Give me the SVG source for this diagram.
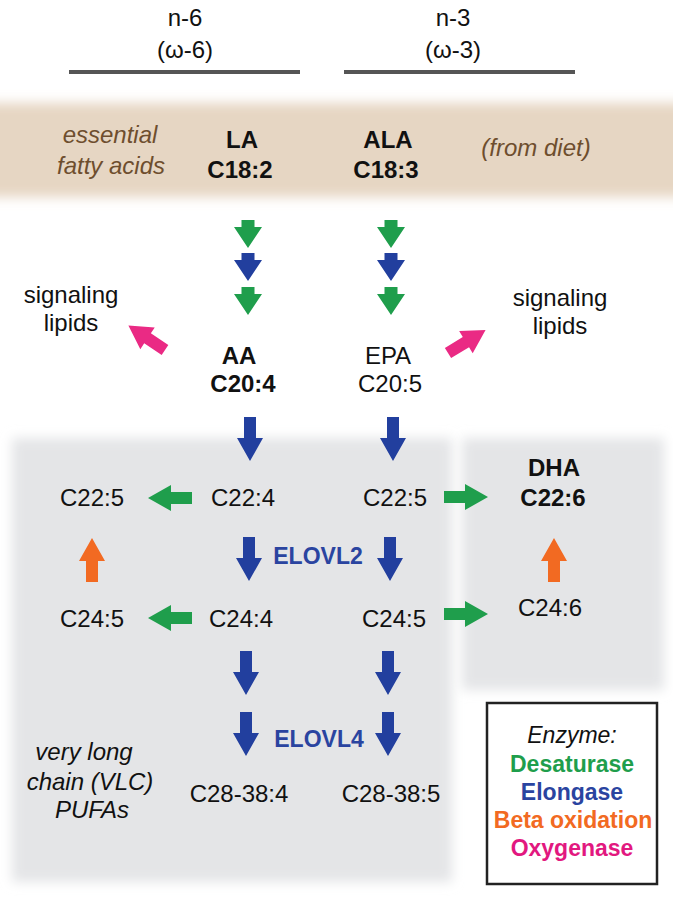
<svg xmlns="http://www.w3.org/2000/svg" xmlns:xlink="http://www.w3.org/1999/xlink" width="673" height="900" viewBox="0 0 673 900">
<defs>
<style>
text{font-family:"Liberation Sans",Arial,sans-serif;font-size:24px;text-anchor:middle;fill:#111}
.b{font-weight:bold}
.i{font-style:italic}
.br{fill:#6e4e2e;font-style:italic}
.el{fill:#2a44a0;font-weight:bold;font-size:23px}
.lg{font-size:23px;font-weight:bold}
.g{fill:#1f9e4c}.bl{fill:#223f9e}.o{fill:#f26a22}.p{fill:#ea2a84}
text.tg{fill:#1f9e4c}.tb{fill:#2a44a0}text.to{fill:#f26a22}text.tp{fill:#e2187f}
</style>
<filter id="blur" x="-10%" y="-20%" width="120%" height="140%"><feGaussianBlur stdDeviation="6"/></filter>
<path id="sa" d="M-6.5,0 H6.5 V7 H14 L0,28 L-14,7 H-6.5 Z"/>
<path id="la" d="M-6,0 H6 V21 H13 L0,44 L-13,21 H-6 Z"/>
</defs>
<g id="backgrounds">
<rect x="-30" y="103" width="733" height="94" fill="#e6d6c3" filter="url(#blur)"/>
<rect x="12" y="438" width="440" height="444" fill="#e4e5e7" filter="url(#blur)"/>
<rect x="462" y="438" width="202" height="252" fill="#e4e5e7" filter="url(#blur)"/>
</g>
<g id="header">
<text x="185" y="26">n-6</text>
<text x="185" y="58">(ω-6)</text>
<text x="453" y="26">n-3</text>
<text x="453" y="58">(ω-3)</text>
<rect x="69" y="70" width="231" height="4" fill="#555"/>
<rect x="344" y="70" width="231" height="4" fill="#555"/>
</g>
<g id="essential"><text class="br" x="110" y="143">essential</text><text class="br" x="111" y="174">fatty acids</text></g>
<g id="LA"><text class="b" x="242" y="148">LA</text><text class="b" x="240" y="178">C18:2</text></g>
<g id="ALA"><text class="b" x="388" y="148">ALA</text><text class="b" x="386" y="178">C18:3</text></g>
<g id="diet"><text class="br" x="536" y="156">(from diet)</text></g>
<g id="signal-left"><text x="71" y="303">signaling</text><text x="71" y="331">lipids</text></g>
<g id="signal-right"><text x="560" y="306">signaling</text><text x="560" y="334">lipids</text></g>
<g id="AA"><text class="b" x="239" y="364">AA</text><text class="b" x="243" y="392">C20:4</text></g>
<g id="EPA"><text x="388" y="364">EPA</text><text x="390" y="392">C20:5</text></g>
<g id="C22-5a"><text x="92" y="506">C22:5</text></g>
<g id="C22-4"><text x="243" y="506">C22:4</text></g>
<g id="C22-5b"><text x="395" y="506">C22:5</text></g>
<g id="DHA"><text class="b" x="554" y="476">DHA</text><text class="b" x="553" y="506">C22:6</text></g>
<g id="C24-5a"><text x="92" y="627">C24:5</text></g>
<g id="C24-4"><text x="241" y="627">C24:4</text></g>
<g id="C24-5b"><text x="394" y="627">C24:5</text></g>
<g id="C24-6"><text x="550" y="616">C24:6</text></g>
<g id="VLC"><text class="i" x="84" y="760">very long</text><text class="i" x="90" y="790">chain (VLC)</text><text class="i" x="92" y="818">PUFAs</text></g>
<g id="C28-38-4"><text x="239" y="802">C28-38:4</text></g>
<g id="C28-38-5"><text x="391" y="802">C28-38:5</text></g>
<g id="labels"><text class="el" x="318" y="564">ELOVL2</text><text class="el" x="319" y="747">ELOVL4</text></g>
<g id="connectors">
<use xlink:href="#sa" class="g" transform="translate(248,220)"/>
<use xlink:href="#sa" class="bl" transform="translate(248,253)"/>
<use xlink:href="#sa" class="g" transform="translate(248,287)"/>
<use xlink:href="#sa" class="g" transform="translate(391,220)"/>
<use xlink:href="#sa" class="bl" transform="translate(391,253)"/>
<use xlink:href="#sa" class="g" transform="translate(391,287)"/>
<use xlink:href="#la" class="p" transform="translate(165,350) rotate(123.7)"/>
<use xlink:href="#la" class="p" transform="translate(448,353) rotate(-121.4)"/>
<use xlink:href="#la" class="bl" transform="translate(250,417)"/>
<use xlink:href="#la" class="bl" transform="translate(393,417)"/>
<use xlink:href="#la" class="g" transform="translate(192,498) rotate(90)"/>
<use xlink:href="#la" class="g" transform="translate(444,497) rotate(-90)"/>
<use xlink:href="#la" class="o" transform="translate(92,582) rotate(180)"/>
<use xlink:href="#la" class="o" transform="translate(554,582) rotate(180)"/>
<use xlink:href="#la" class="bl" transform="translate(249,537)"/>
<use xlink:href="#la" class="bl" transform="translate(390,537)"/>
<use xlink:href="#la" class="g" transform="translate(192,618) rotate(90)"/>
<use xlink:href="#la" class="g" transform="translate(444,614) rotate(-90)"/>
<use xlink:href="#la" class="bl" transform="translate(246,651)"/>
<use xlink:href="#la" class="bl" transform="translate(388,651)"/>
<use xlink:href="#la" class="bl" transform="translate(246,712)"/>
<use xlink:href="#la" class="bl" transform="translate(388,712)"/>
</g>
<g id="legend">
<rect x="487" y="703" width="170" height="181" fill="#fff" stroke="#222" stroke-width="2.5"/>
<text class="i" x="572" y="743" style="font-size:23px">Enzyme:</text>
<text class="lg tg" x="572" y="772">Desaturase</text>
<text class="lg tb" x="572" y="800">Elongase</text>
<text class="lg to" x="573" y="828">Beta oxidation</text>
<text class="lg tp" x="572" y="856">Oxygenase</text>
</g>
</svg>
